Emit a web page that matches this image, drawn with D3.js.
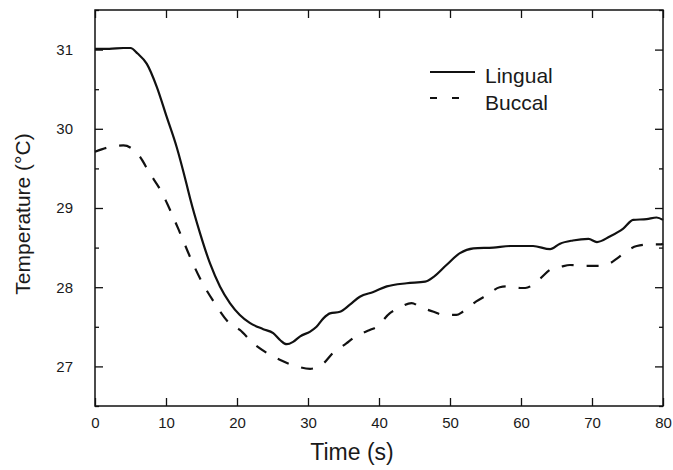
<!DOCTYPE html>
<html>
<head>
<meta charset="utf-8">
<script src="https://cdn.jsdelivr.net/npm/d3@7"></script>
<style>
  body { margin: 0; background: #fff; }
  text { font-family: "Liberation Sans", Arial, sans-serif; fill: #1a1a1a; }
</style>
</head>
<body>
<div id="chart"></div>
<script>
// values
var lingualTime = [0, 2, 4, 5, 6, 7.3, 8.7, 10.1, 11.5, 12.9, 13.4, 14.8, 16.2, 17.6, 19, 20.4, 21.8, 23.7, 25.1, 26.1, 27,
  27.9, 28.9, 30.3, 31.2, 32.2, 33.1, 34.5, 35.9, 37.3, 39.2, 41.1, 43.9, 46.5, 47.7, 49.5, 51.4, 53.3, 56.1, 58.5,
  61.7, 64.1, 65.5, 67.3, 69.5, 70.7, 72.5, 74.4, 75.8, 77.7, 79.1, 80];
var lingualTemp = [31.01, 31.01, 31.02, 31.02, 30.95, 30.82, 30.53, 30.15, 29.77, 29.3, 29.12, 28.68, 28.30, 28.01, 27.80, 27.65, 27.55, 27.47, 27.42, 27.33, 27.28,
  27.31, 27.38, 27.44, 27.50, 27.61, 27.67, 27.69, 27.78, 27.88, 27.94, 28.01, 28.05, 28.07, 28.13, 28.28, 28.43, 28.49, 28.50, 28.52,
  28.52, 28.48, 28.55, 28.59, 28.61, 28.57, 28.64, 28.74, 28.85, 28.86, 28.88, 28.85];

var buccalTime = [0, 1.6, 4, 6.3, 7.7, 9.2, 10.6, 12, 13.4, 14.8, 16.7, 19, 20.4, 22.3, 24.2, 26.1, 28.4, 30.3, 32.2, 33.5, 35.4,
  36.4, 38.7, 39.7, 41.5, 42.7, 44.6, 45.8, 47.7, 49.1, 50.9, 51.8, 53.7, 55.2, 57, 58, 59.9, 60.6, 62.7, 64.1, 65.7,
  66.9, 69.2, 71.1, 72.5, 73.5, 75.1, 76.3, 78.2, 79.6, 80];
var buccalTemp = [29.71, 29.76, 29.79, 29.65, 29.44, 29.23, 28.97, 28.68, 28.38, 28.11, 27.82, 27.54, 27.46, 27.29, 27.17, 27.08, 27.00, 26.97, 27.04, 27.17, 27.29,
  27.36, 27.46, 27.50, 27.67, 27.73, 27.80, 27.75, 27.69, 27.65, 27.65, 27.69, 27.82, 27.90, 28.00, 28.01, 27.99, 27.99, 28.11, 28.22, 28.26,
  28.28, 28.27, 28.27, 28.30, 28.36, 28.47, 28.52, 28.54, 28.54, 28.55];

var xTicks = [0, 10, 20, 30, 40, 50, 60, 70, 80];
var yTicks = [27, 28, 29, 30, 31];
var yMinorTicks = [26.5, 27.5, 28.5, 29.5, 30.5, 31.5];
var seriesNames = ["Lingual", "Buccal"];

var width = 673, height = 470;
var margin = {left: 95, right: 10, top: 10, bottom: 64};

var svg = d3.select("#chart").append("svg")
    .attr("width", width)
    .attr("height", height);

var x = d3.scaleLinear().domain([0, 80]).range([margin.left, width - margin.right]);
var y = d3.scaleLinear().domain([26.5, 31.5]).range([height - margin.bottom, margin.top]);

var majorLen = 8, minorLen = 4;

function styleAxis(g) {
  g.select(".domain").remove();
  g.selectAll("text").attr("font-size", "15px").attr("fill", "#1a1a1a");
  g.selectAll("line").attr("stroke", "#111").attr("stroke-width", 1.3);
}

// inward ticks on all four sides
svg.append("g")
    .attr("transform", "translate(0," + y.range()[0] + ")")
    .call(d3.axisBottom(x).tickValues(xTicks).tickSizeInner(-majorLen).tickSizeOuter(0)
      .tickFormat(d3.format("d")).tickPadding(11))
    .call(styleAxis);

svg.append("g")
    .attr("transform", "translate(0," + y.range()[1] + ")")
    .call(d3.axisTop(x).tickValues(xTicks).tickSizeInner(-majorLen).tickSizeOuter(0).tickFormat(""))
    .call(styleAxis);

svg.append("g")
    .attr("transform", "translate(" + x.range()[0] + ",0)")
    .call(d3.axisLeft(y).tickValues(yTicks).tickSizeInner(-majorLen).tickSizeOuter(0)
      .tickFormat(d3.format("d")).tickPadding(22))
    .call(styleAxis);

svg.append("g")
    .attr("transform", "translate(" + x.range()[0] + ",0)")
    .call(d3.axisLeft(y).tickValues(yMinorTicks).tickSizeInner(-minorLen).tickSizeOuter(0).tickFormat(""))
    .call(styleAxis);

svg.append("g")
    .attr("transform", "translate(" + x.range()[1] + ",0)")
    .call(d3.axisRight(y).tickValues(yTicks).tickSizeInner(-majorLen).tickSizeOuter(0).tickFormat(""))
    .call(styleAxis);

svg.append("g")
    .attr("transform", "translate(" + x.range()[1] + ",0)")
    .call(d3.axisRight(y).tickValues(yMinorTicks).tickSizeInner(-minorLen).tickSizeOuter(0).tickFormat(""))
    .call(styleAxis);

// frame
svg.append("rect")
    .attr("x", x.range()[0])
    .attr("y", y.range()[1])
    .attr("width", x.range()[1] - x.range()[0])
    .attr("height", y.range()[0] - y.range()[1])
    .attr("fill", "none")
    .attr("stroke", "#111")
    .attr("stroke-width", 1.5);

var line = d3.line()
    .x(function(d) { return x(d[0]); })
    .y(function(d) { return y(d[1]); })
    .curve(d3.curveMonotoneX);

var lingual = d3.zip(lingualTime, lingualTemp);
var buccal = d3.zip(buccalTime, buccalTemp);

svg.append("path")
    .datum(lingual)
    .attr("d", line)
    .attr("fill", "none")
    .attr("stroke", "#111")
    .attr("stroke-width", 2.2);

svg.append("path")
    .datum(buccal)
    .attr("d", line)
    .attr("fill", "none")
    .attr("stroke", "#111")
    .attr("stroke-width", 2.2)
    .attr("stroke-dasharray", "12,13");

// legend
var legend = svg.append("g").attr("transform", "translate(430,72)");
seriesNames.forEach(function(name, i) {
  legend.append("line")
      .attr("x1", 0).attr("x2", i == 1 ? 29 : 45)
      .attr("y1", i * 26).attr("y2", i * 26)
      .attr("stroke", "#111")
      .attr("stroke-width", 2.2)
      .attr("stroke-dasharray", i == 1 ? "7,15" : null);
  legend.append("text")
      .attr("x", 55)
      .attr("y", i * 27 + 11)
      .attr("font-size", "21px")
      .text(name);
});

// axis titles
svg.append("text")
    .attr("x", 352)
    .attr("y", 460)
    .attr("text-anchor", "middle")
    .attr("font-size", "23px")
    .text("Time (s)");

svg.append("text")
    .attr("transform", "translate(30,214) rotate(-90)")
    .attr("text-anchor", "middle")
    .attr("font-size", "21px")
    .text("Temperature (\u00B0C)");
</script>
</body>
</html>
